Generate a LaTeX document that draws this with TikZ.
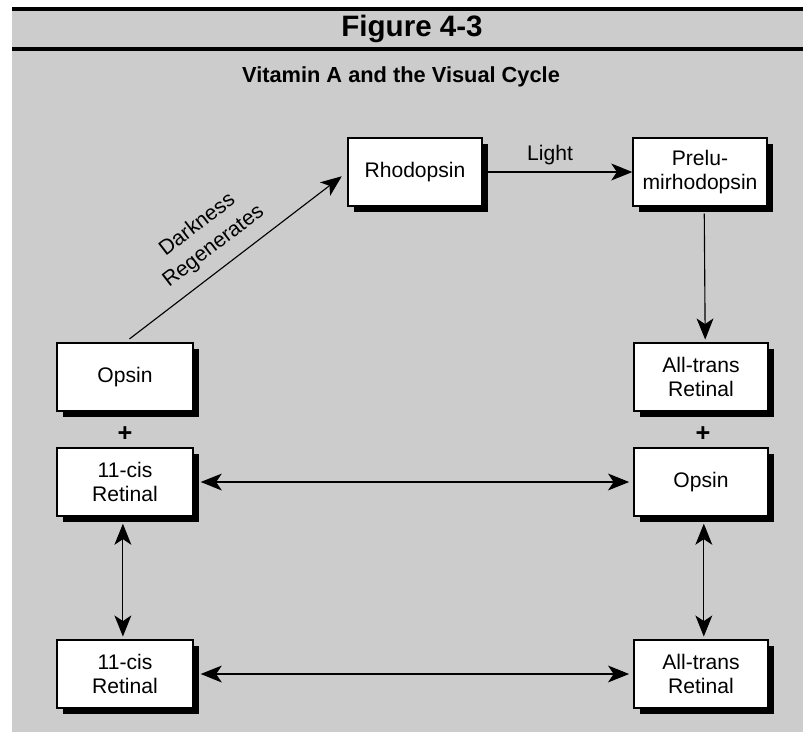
\documentclass[tikz,border=0pt]{standalone}
\usepackage{fontspec}
\setmainfont{Liberation Sans}
\usepackage{tikz}
\usetikzlibrary{arrows.meta, shadows}

\begin{document}
\begin{tikzpicture}[x=0.025cm, y=-0.025cm,
    box/.style={draw, line width=0.9pt, fill=white, minimum width=3.4cm, minimum height=1.7cm,
      align=center, inner sep=2pt, font=\fontsize{15}{17.5}\selectfont,
      drop shadow={shadow xshift=4.6pt, shadow yshift=-4.6pt, opacity=1, fill=black}},
    link/.style={line width=0.8pt, -{Stealth[length=15pt, width=12pt, inset=4pt]}},
    both/.style={line width=0.8pt, {Stealth[length=15pt, width=12pt, inset=4pt]}-{Stealth[length=15pt, width=12pt, inset=4pt]}},
    lbl/.style={font=\fontsize{15}{19}\selectfont, align=center}]
  \useasboundingbox (0,0) rectangle (803,732);

  % sfondo e testata
  \fill[black!20] (12,8) rectangle (803,732);
  \draw[line width=2.2pt] (12,9) -- (803,9);
  \draw[line width=2.2pt] (12,49) -- (803,49);
  \node[font=\fontsize{21}{24}\selectfont\bfseries] (title) at (412,29) {Figure 4-3};
  \node[font=\fontsize{15.5}{18}\selectfont\bfseries] (subtitle) at (401,77) {Vitamin A and the Visual Cycle};

  % scatole
  \node[box, minimum width=3.35cm] (rhod) at (415,172) {Rhodopsin};
  \node[box, minimum width=3.35cm] (prelu) at (700,172) {Prelu-\\mirhodopsin};
  \node[box] (opsinL) at (125,377) {Opsin};
  \node[box, minimum width=3.35cm] (transT) at (701,377) {All-trans\\Retinal};
  \node[box] (cisM) at (125,482) {11-cis\\Retinal};
  \node[box, minimum width=3.35cm] (opsinR) at (701,482) {Opsin};
  \node[box] (cisB) at (125,674) {11-cis\\Retinal};
  \node[box, minimum width=3.35cm] (transB) at (701,674) {All-trans\\Retinal};

  % segni piu
  \node[font=\fontsize{18}{18}\selectfont\bfseries] (plusL) at (125,434) {+};
  \node[font=\fontsize{18}{18}\selectfont\bfseries] (plusR) at (703,434) {+};

  % frecce
  \draw[link, shorten <=4pt, shorten >=5pt] (opsinL.north) -- (rhod.west)
    node[lbl, pos=0.46, sloped, above=5pt] {Darkness\\Regenerates};
  \draw[link] (rhod.east) -- (prelu.west) node[lbl, pos=0.45, above=1pt] {Light};
  \draw[link, shorten <=5pt, shorten >=2pt] ([xshift=3pt]prelu.south) -- ([xshift=3pt]transT.north);
  \draw[both, shorten <=5pt, shorten >=3pt] (cisM.east) -- (opsinR.west);
  \draw[both, shorten <=5pt, shorten >=3pt] (cisB.east) -- (transB.west);
  \draw[both, shorten <=5pt, shorten >=2pt] ([xshift=-1.5pt]cisM.south) -- ([xshift=-1.5pt]cisB.north);
  \draw[both, shorten <=5pt, shorten >=2pt] ([xshift=2pt]opsinR.south) -- ([xshift=2pt]transB.north);
\end{tikzpicture}
\end{document}
